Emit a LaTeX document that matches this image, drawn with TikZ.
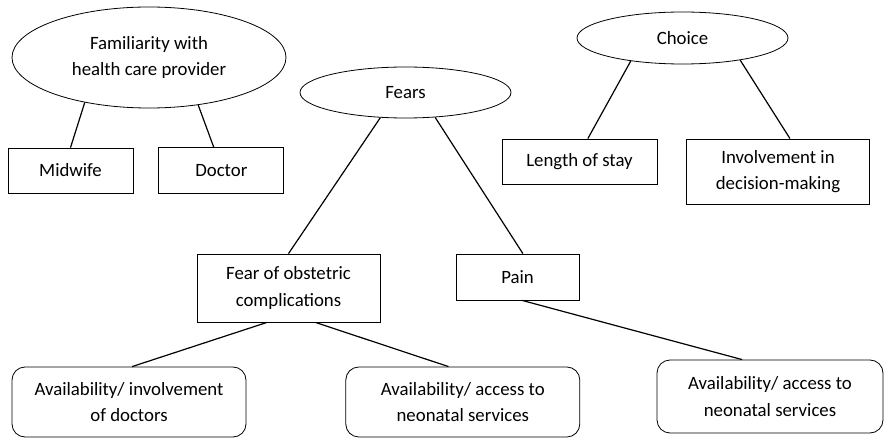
\documentclass[tikz,border=0pt]{standalone}
\usepackage{fontspec}
\setmainfont{Carlito}
\usetikzlibrary{positioning,shapes.geometric}

\begin{document}
\begin{tikzpicture}[
  x=0.5pt,y=-0.5pt,
  node distance=12.5pt,
  every node/.style={font=\fontsize{9.4}{13.3}\selectfont},
  oval/.style={draw,ellipse,inner sep=0pt,align=center},
  box/.style={draw,rectangle,inner sep=0pt,align=center},
  softbox/.style={draw,rectangle,rounded corners=6.5pt,inner sep=0pt,align=center,minimum width=117pt,minimum height=35pt},
  link/.style={line width=0.6pt}
]
\useasboundingbox (0,0) rectangle (884,438);
% themes
\node[oval,minimum width=137pt,minimum height=50.5pt] (familiar) at (149,57.5) {Familiarity with\\health care provider};
\node[oval,minimum width=105.5pt,minimum height=25.5pt] (fears) at (405.5,92.5) {Fears};
\node[oval,minimum width=105.5pt,minimum height=26pt] (choice) at (682.5,38) {Choice};
% sub-themes
\node[box,minimum width=62.5pt,minimum height=22.5pt] (midwife) at (70.5,170.5) {Midwife};
\node[box,minimum width=62.5pt,minimum height=23pt,right=of midwife] (doctor) {Doctor};
\node[box,minimum width=77.5pt,minimum height=22.5pt] (length) at (579.5,161.5) {Length of stay};
\node[box,minimum width=91.5pt,minimum height=32.5pt] (involve) at (778,171.5) {Involvement in\\decision-making};
\node[box,minimum width=91.5pt,minimum height=34pt] (fooc) at (288.5,288) {Fear of obstetric\\complications};
\node[box,minimum width=61.5pt,minimum height=23pt] (pain) at (517.5,277) {Pain};
% services
\node[softbox] (avdoc) at (129,402) {Availability/ involvement\\of doctors};
\node[softbox,right=49.5pt of avdoc] (neo1) {Availability/ access to\\neonatal services};
\node[softbox,minimum width=113pt,minimum height=36.5pt] (neo2) at (770,396.5) {Availability/ access to\\neonatal services};
\draw[link] (familiar.215) -- (midwife.north);
\draw[link] (familiar.316) -- (doctor.108);
\draw[link] (fears.225) -- (fooc.north);
\draw[link] (fears.320) -- (pain.77);
\draw[link] (fooc.238) -- (avdoc.85);
\draw[link] (fooc.308) -- (neo1.112);
\draw[link] (pain.281) -- (neo2.127);
\draw[link] (choice.204) -- (length.70);
\draw[link] (choice.339) -- (involve.70);
\end{tikzpicture}
\end{document}
